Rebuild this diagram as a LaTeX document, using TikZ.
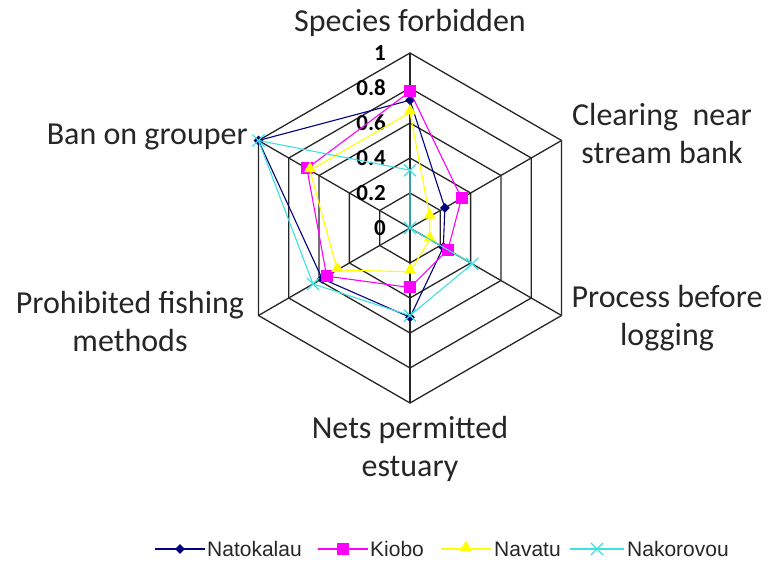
\documentclass[tikz,border=0pt]{standalone}
\usepackage{fontspec}
\setmainfont{Carlito}
\newfontfamily\legendfont{Liberation Sans}
\usepackage{xcolor}
\usetikzlibrary{
		calc,
		positioning,
		shapes.geometric,
		shapes.misc
	}
\definecolor{natcol}{RGB}{0,0,128}
\definecolor{kiocol}{RGB}{255,0,255}
\definecolor{navcol}{RGB}{255,255,0}
\definecolor{nakcol}{RGB}{64,224,224}
\tikzset{
		gridline/.style={black!85,line width=1.3bp},
		catlabel/.style={font=\fontsize{32bp}{38bp}\selectfont,inner sep=0pt,align=center,text=black!85},
		ticklabel/.style={font=\fontsize{23bp}{26bp}\selectfont\bfseries,inner sep=0pt,anchor=east},
		legendtext/.style={font=\legendfont\fontsize{21bp}{24bp}\selectfont,inner sep=0pt,text=black!85},
		natline/.style={natcol,line width=1.1bp},
		kioline/.style={kiocol,line width=1.1bp},
		navline/.style={navcol,line width=1.1bp},
		nakline/.style={nakcol,line width=1.1bp},
		natmark/.style={diamond,fill=natcol,inner sep=0pt,minimum size=10bp},
		kiomark/.style={rectangle,fill=kiocol,inner sep=0pt,minimum size=12bp},
		navmark/.style={regular polygon,regular polygon sides=3,fill=navcol,inner sep=0pt,minimum size=14bp,yshift=1.5bp},
		nakmark/.style={cross out,draw=nakcol,line width=1.1bp,inner sep=0pt,minimum size=11bp}
	}

\begin{document}
\begin{tikzpicture}[x=1bp,y=1bp]
          \useasboundingbox (-410,-341) rectangle (360,228);

          % hexagon rings and spokes
          \foreach \r in {35,70,105,140,175}
            \draw[gridline] (90:\r) -- (30:\r) -- (-30:\r) -- (-90:\r) -- (-150:\r) -- (150:\r) -- cycle;
          \foreach \a in {90,30,-30,-90,-150,150}
            \draw[gridline] (0,0) -- (\a:175);

          % scale
          \foreach \v [count=\i from 0] in {0,0.2,0.4,0.6,0.8,1}
            \node[ticklabel] (tick\i) at (-24,{35*\i}) {\v};

          % categories
          \node[catlabel,anchor=base] (species) at (0,196) {Species forbidden};
          \node[catlabel,anchor=north] (clearing) at (252,125) {Clearing\ \ near\\stream bank};
          \node[catlabel,anchor=north] (process) at (257,-57) {Process before\\logging};
          \node[catlabel,anchor=north] (nets) at (0,-188) {Nets permitted\\estuary};
          \node[catlabel,anchor=north] (prohibited) at (-280,-63) {Prohibited fishing\\methods};
          \node[catlabel,anchor=base east] (grouper) at (-162,83) {Ban on grouper};

          % data points
          \foreach \v [count=\i] in {0.73,0.23,0.22,0.51,0.58,1}
            \coordinate (nat\i) at ({150-60*\i}:{175*\v});
          \foreach \v [count=\i] in {0.78,0.34,0.25,0.34,0.55,0.68}
            \coordinate (kio\i) at ({150-60*\i}:{175*\v});
          \foreach \v [count=\i] in {0.66,0.13,0.13,0.25,0.48,0.66}
            \coordinate (nav\i) at ({150-60*\i}:{175*\v});
          \foreach \v [count=\i] in {0.33,0,0.41,0.5,0.64,1}
            \coordinate (nak\i) at ({150-60*\i}:{175*\v});

          \draw[natline] (nat1) -- (nat2) -- (nat3) -- (nat4) -- (nat5) -- (nat6) -- cycle;
          \foreach \i in {1,...,6} \node[natmark] (natm\i) at (nat\i) {};
          \draw[kioline] (kio1) -- (kio2) -- (kio3) -- (kio4) -- (kio5) -- (kio6) -- cycle;
          \foreach \i in {1,...,6} \node[kiomark] (kiom\i) at (kio\i) {};
          \draw[navline] (nav1) -- (nav2) -- (nav3) -- (nav4) -- (nav5) -- (nav6) -- cycle;
          \foreach \i in {1,...,6} \node[navmark] (navm\i) at (nav\i) {};
          \draw[nakline] (nak1) -- (nak2) -- (nak3) -- (nak4) -- (nak5) -- (nak6) -- cycle;
          \foreach \i in {1,...,6} \node[nakmark] (nakm\i) at (nak\i) {};

          % legend
          \coordinate (l1a) at (-255,-321); \coordinate (l1b) at (-205,-321);
          \draw[natline] (l1a) -- (l1b);
          \node[natmark] (leg1) at ($(l1a)!0.5!(l1b)$) {};
          \node[legendtext,right=2bp of l1b] (natlab) {Natokalau};

          \coordinate (l2a) at (-92,-321); \coordinate (l2b) at (-42,-321);
          \draw[kioline] (l2a) -- (l2b);
          \node[kiomark] (leg2) at ($(l2a)!0.5!(l2b)$) {};
          \node[legendtext,right=2bp of l2b] (kiolab) {Kiobo};

          \coordinate (l3a) at (31,-321); \coordinate (l3b) at (81,-321);
          \draw[navline] (l3a) -- (l3b);
          \node[navmark] (leg3) at ($(l3a)!0.5!(l3b)$) {};
          \node[legendtext,right=3bp of l3b] (navlab) {Navatu};

          \coordinate (l4a) at (160,-321); \coordinate (l4b) at (214,-321);
          \draw[nakline] (l4a) -- (l4b);
          \node[nakmark] (leg4) at ($(l4a)!0.5!(l4b)$) {};
          \node[legendtext,right=3bp of l4b] (naklab) {Nakorovou};
\end{tikzpicture}
\end{document}
